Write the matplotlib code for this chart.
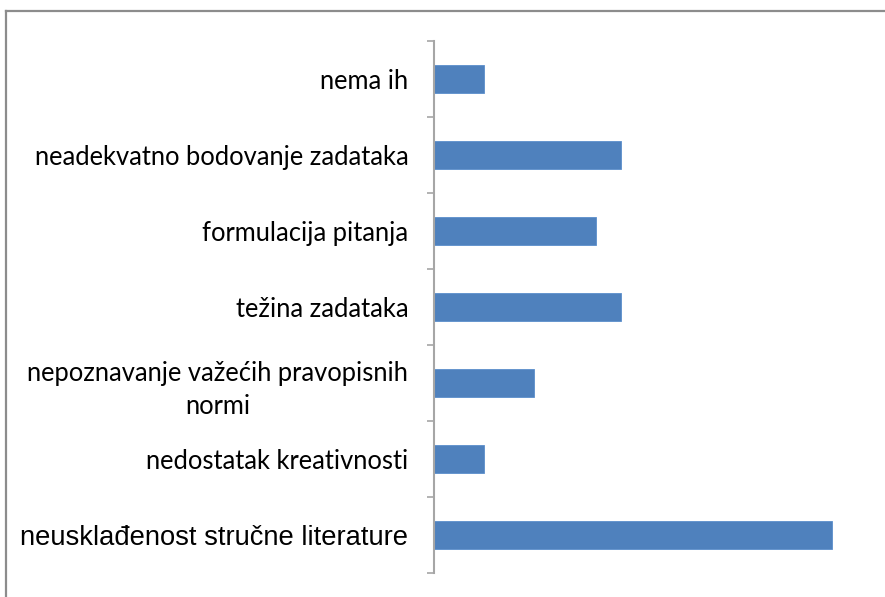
import matplotlib
matplotlib.use("Agg")
import matplotlib.pyplot as plt
from matplotlib.lines import Line2D

categories = [
    "neusklađenost stručne literature",
    "nedostatak kreativnosti",
    "nepoznavanje važećih pravopisnih\nnormi",
    "težina zadataka",
    "formulacija pitanja",
    "neadekvatno bodovanje zadataka",
    "nema ih",
]
values = [32, 4, 8, 15, 13, 15, 4]

W, H = 885, 597
fig = plt.figure(figsize=(W / 100, H / 100), dpi=100)
fig.patch.set_facecolor("white")

ax = fig.add_axes([434 / W, 24 / H, (860 - 434) / W, (573 - 41) / H])
pos = list(range(len(categories)))
ax.barh(pos, values, height=0.38, color="#4F81BD", edgecolor="#5B8FCC", linewidth=0.6)

ax.set_xlim(0, 426 / 12.44)
ax.set_ylim(-0.5, len(categories) - 0.5)

for s in ["top", "right", "bottom"]:
    ax.spines[s].set_visible(False)
ax.spines["left"].set_color("#A6A6A6")
ax.spines["left"].set_linewidth(1.5)
ax.set_xticks([])

ax.set_yticks(pos)
ax.set_yticklabels(categories)
ax.tick_params(axis="y", which="major", length=0, pad=18.5)
ax.set_yticks([p - 0.5 for p in pos] + [len(pos) - 0.5], minor=True)
ax.tick_params(axis="y", which="minor", length=5, width=1.2, color="#A6A6A6", direction="out")

for i, lab in enumerate(ax.get_yticklabels()):
    if i == 0:
        lab.set_fontfamily("Liberation Sans")
        lab.set_fontsize(19.7)
    else:
        lab.set_fontfamily("Lato")
        lab.set_fontsize(18.4)
    lab.set_color("#000000")
    lab.set_multialignment("center")
    lab.set_linespacing(1.4)

# outer chart frame (top and left edges)
fig.add_artist(Line2D([6 / W, 1], [1 - 11 / H, 1 - 11 / H], transform=fig.transFigure,
                      color="#8C8C8C", linewidth=1.6))
fig.add_artist(Line2D([6 / W, 6 / W], [0, 1 - 11 / H], transform=fig.transFigure,
                      color="#8C8C8C", linewidth=1.6))

fig.savefig("out.png", dpi=100)
